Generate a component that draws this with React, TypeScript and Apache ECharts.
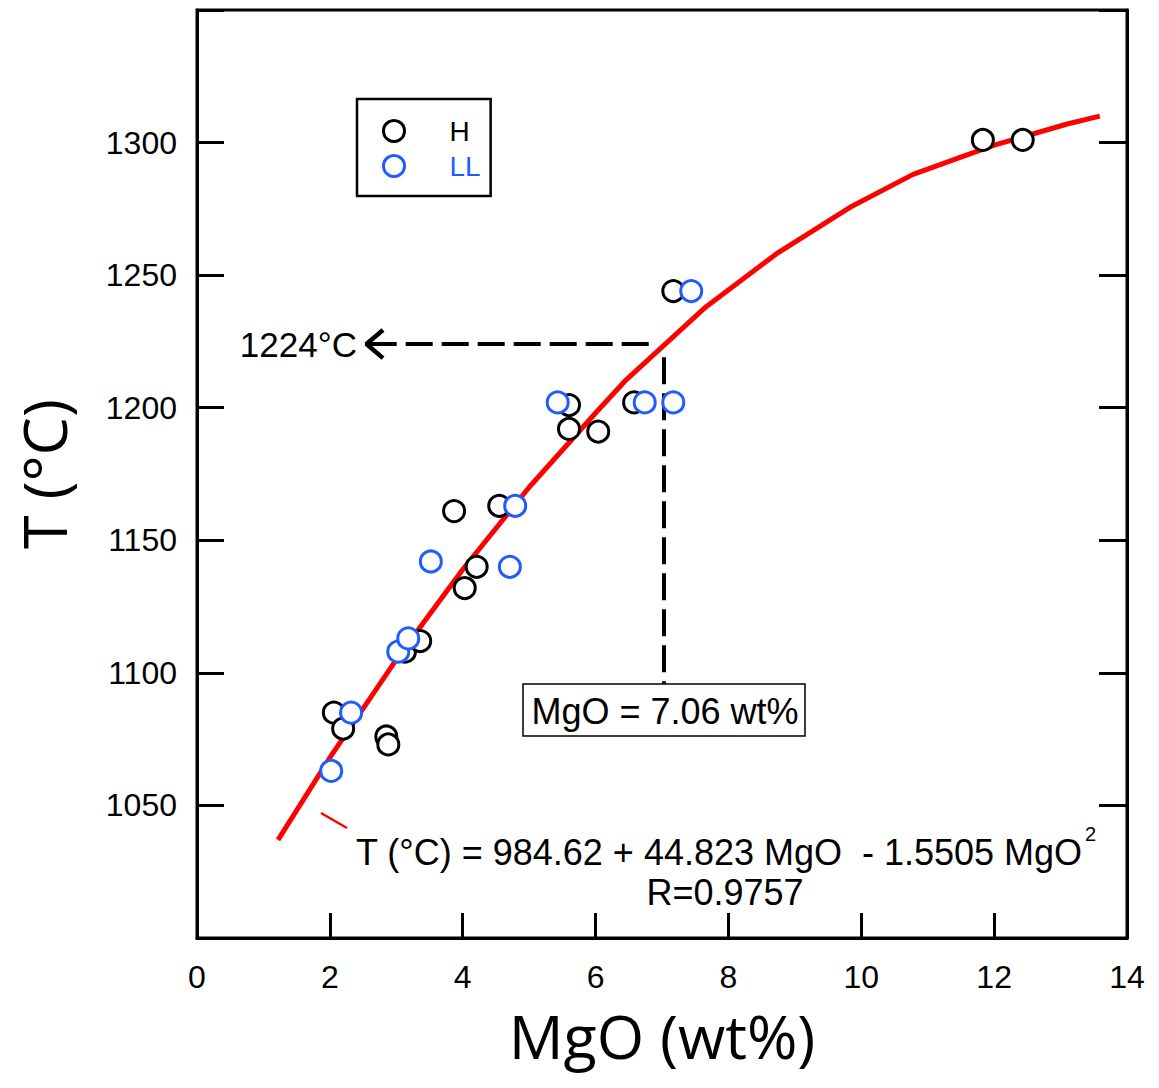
import React, { useEffect, useRef } from "react";
import * as echarts from "echarts";

// Sample groups (MgO wt%, T °C)
const hMgO = [2.06, 2.2, 2.85, 2.88, 3.13, 3.36, 3.87, 4.03, 4.21, 4.55, 5.6, 5.6, 6.04, 6.58, 7.17, 11.83, 12.43];
const hT = [1085, 1079, 1076, 1073, 1108, 1112, 1161, 1132, 1140, 1163, 1201, 1192, 1191, 1202, 1244, 1301, 1301];
const llMgO = [2.02, 2.32, 3.03, 3.18, 3.52, 4.71, 4.79, 5.43, 6.74, 7.17, 7.44];
const llT = [1063, 1085, 1108, 1113, 1142, 1140, 1163, 1202, 1202, 1202, 1244];

// Regression curve
const fitMgO = [1.22, 2.0, 3.0, 4.0, 5.0, 6.0, 6.44, 7.66, 8.72, 9.86, 10.78, 12.0, 13.1, 13.59];
const fitT = [1037, 1068, 1105, 1139, 1170, 1198, 1210, 1238, 1258, 1276, 1288, 1299, 1307, 1310];

// Read-off annotation
const readMgO = 7.03;
const readT = 1224;
const arrowTipMgO = 2.55;
const boxTopT = 1096;

const xMin = 0, xMax = 14, xStep = 2;
const yMin = 1000, yMax = 1350, yStep = 50;
const hiddenYLabels = [1000, 1350];

const BLUE = "#1f5cff";
const ARIAL = "'Liberation Sans', Arial, sans-serif";
const SEGOE = "'Open Sans', 'Noto Sans', sans-serif";

export default function App() {
  const ref = useRef<HTMLDivElement>(null);
  useEffect(() => {
    document.body.style.margin = "0";
    const chart = echarts.init(ref.current!, undefined, { renderer: "svg" });
    const zip = (a: number[], b: number[]) => a.map((v, i) => [v, b[i]]);
    const option: any = {
      animation: false,
      backgroundColor: "#fff",
      grid: {
        left: 197, top: 10, width: 930, height: 928,
        show: true, borderColor: "#000", borderWidth: 3, backgroundColor: "transparent",
      },
      legend: {
        orient: "vertical",
        left: 357, top: 99,
        padding: [18, 10, 16, 25],
        borderColor: "#000", borderWidth: 2.5,
        itemWidth: 21, itemHeight: 21, itemGap: 7,
        icon: "circle",
        selectedMode: false,
        textStyle: { fontFamily: ARIAL, fontSize: 28, padding: [0, 0, 0, 40] },
        data: [
          { name: "H", itemStyle: { color: "#fff", borderColor: "#000", borderWidth: 3 }, textStyle: { color: "#000" } },
          { name: "LL", itemStyle: { color: "#fff", borderColor: BLUE, borderWidth: 3 }, textStyle: { color: BLUE } },
        ],
      },
      xAxis: {
        type: "value", min: xMin, max: xMax, interval: xStep,
        name: "MgO (wt%)", nameLocation: "middle", nameGap: 97,
        nameTextStyle: { fontFamily: SEGOE, fontSize: 61, color: "#000", verticalAlign: "middle", lineHeight: 46 },
        axisLine: { show: true, lineStyle: { color: "#000", width: 3 } },
        axisTick: { show: true, inside: true, length: 25, lineStyle: { color: "#000", width: 3 } },
        axisLabel: { fontFamily: ARIAL, fontSize: 32, color: "#000", margin: 23 },
        splitLine: { show: false },
      },
      yAxis: [
        {
          type: "value", min: yMin, max: yMax, interval: yStep, position: "left",
          name: "T (°C)", nameLocation: "middle", nameGap: 154, nameRotate: 90,
          nameTextStyle: { fontFamily: SEGOE, fontSize: 61, color: "#000", verticalAlign: "middle", lineHeight: 48 },
          axisLine: { show: true, lineStyle: { color: "#000", width: 3 } },
          axisTick: { show: true, inside: true, length: 27, lineStyle: { color: "#000", width: 3 } },
          axisLabel: {
            fontFamily: ARIAL, fontSize: 32, color: "#000", margin: 20,
            formatter: (v: number) => (hiddenYLabels.includes(v) ? "" : String(v)),
          },
          splitLine: { show: false },
        },
        {
          type: "value", min: yMin, max: yMax, interval: yStep, position: "right",
          axisLine: { show: true, lineStyle: { color: "#000", width: 3 } },
          axisTick: { show: true, inside: true, length: 28, lineStyle: { color: "#000", width: 3 } },
          axisLabel: { show: false },
          splitLine: { show: false },
        },
      ],
      series: [
        {
          name: "fit", type: "line", data: zip(fitMgO, fitT), symbol: "none", silent: true,
          lineStyle: { color: "#ff0000", width: 5 }, z: 2,
        },
        {
          name: "readH", type: "line", symbol: "none", silent: true,
          data: [[arrowTipMgO + 0.05, readT], [readMgO - 0.2, readT]],
          lineStyle: { color: "#000", width: 4, type: [27, 9] }, z: 2,
        },
        {
          name: "readV", type: "line", symbol: "none", silent: true,
          data: [[readMgO, readT - 5], [readMgO, boxTopT]],
          lineStyle: { color: "#000", width: 4, type: [27, 9] }, z: 2,
        },
        {
          name: "arrowHead", type: "line", symbol: "none", silent: true,
          data: [[arrowTipMgO + 0.25, readT + 5.3], [arrowTipMgO, readT], [arrowTipMgO + 0.25, readT - 5.3]],
          lineStyle: { color: "#000", width: 4.5 }, z: 2,
        },
        {
          name: "H", type: "scatter", data: zip(hMgO, hT), symbol: "circle", symbolSize: 21,
          itemStyle: { color: "#fff", borderColor: "#000", borderWidth: 3, opacity: 1 }, z: 3,
        },
        {
          name: "LL", type: "scatter", data: zip(llMgO, llT), symbol: "circle", symbolSize: 21,
          itemStyle: { color: "#fff", borderColor: BLUE, borderWidth: 3, opacity: 1 }, z: 4,
        },
      ],
      graphic: [
        {
          type: "text", x: 357, y: 344, z: 10,
          style: { text: "1224°C", fontFamily: ARIAL, fontSize: 35, fill: "#000", align: "right", verticalAlign: "middle" },
        },
        {
          type: "rect", x: 523, y: 684, z: 10,
          shape: { width: 282, height: 52 },
          style: { fill: "#fff", stroke: "#000", lineWidth: 1.5 },
        },
        {
          type: "text", x: 665, y: 711, z: 11,
          style: { text: "MgO = 7.06 wt%", fontFamily: ARIAL, fontSize: 36, fill: "#000", align: "center", verticalAlign: "middle" },
        },
        {
          type: "line", z: 10,
          shape: { x1: 321, y1: 813, x2: 347, y2: 828 },
          style: { stroke: "#ff0000", lineWidth: 2.5 },
        },
        {
          type: "text", x: 356, y: 852, z: 10,
          style: { text: "T (°C) = 984.62 + 44.823 MgO  - 1.5505 MgO", fontFamily: ARIAL, fontSize: 36, lineHeight: 32, fill: "#000", align: "left", verticalAlign: "middle" },
        },
        {
          type: "text", x: 1085, y: 834, z: 10,
          style: { text: "2", fontFamily: ARIAL, fontSize: 20, fill: "#000", align: "left", verticalAlign: "middle" },
        },
        {
          type: "text", x: 725, y: 892, z: 10,
          style: { text: "R=0.9757", fontFamily: ARIAL, fontSize: 36, lineHeight: 32, fill: "#000", align: "center", verticalAlign: "middle" },
        },
      ],
    };
    chart.setOption(option);
    return () => chart.dispose();
  }, []);
  return <div ref={ref} style={{ width: 1159, height: 1088 }} />;
}
